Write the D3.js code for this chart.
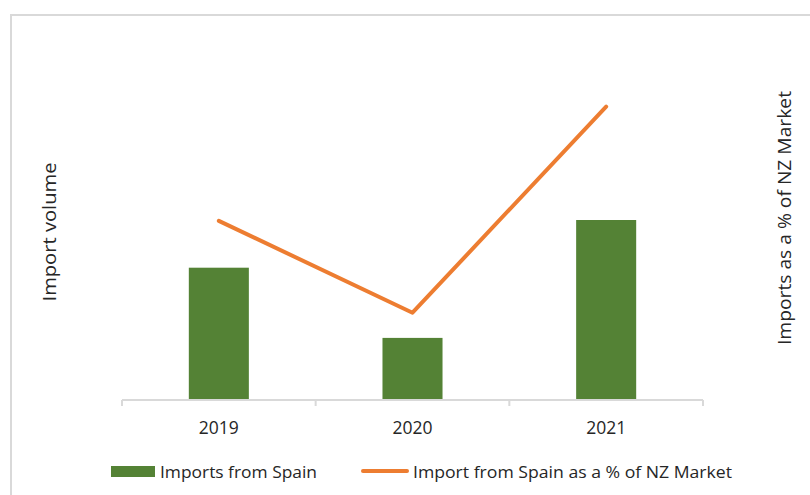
<!DOCTYPE html>
<html>
<head>
<meta charset="utf-8">
<script src="https://cdn.jsdelivr.net/npm/d3@7"></script>
<style>
  body { margin: 0; background: #fff; }
  text { font-family: "Open Sans", "Liberation Sans", sans-serif; fill: #262626; }
</style>
</head>
<body>
<div id="chart"></div>
<script>
var years = ["2019", "2020", "2021"];
var importVolume = [1470, 690, 2000];      // bars, left axis (hidden)
var importShare = [1.99, 0.97, 3.26];      // line, % of NZ market (hidden right axis)

var width = 810, height = 495;
var margin = { left: 122, right: 107, top: 40, bottom: 95 };

var svg = d3.select("#chart").append("svg")
            .attr("width", width)
            .attr("height", height);

// chart frame
svg.append("rect")
   .attr("x", 11).attr("y", 15)
   .attr("width", 820).attr("height", 500)
   .attr("fill", "none")
   .attr("stroke", "#d9d9d9")
   .attr("stroke-width", 2);

var x = d3.scaleBand()
          .domain(years)
          .range([margin.left, width - margin.right])
          .paddingInner(0.69)
          .paddingOuter(0.345);

var yLeft = d3.scaleLinear().domain([0, 4000]).range([height - margin.bottom, margin.top]);
var yRight = d3.scaleLinear().domain([0, 4]).range([height - margin.bottom, margin.top]);

// bars
svg.selectAll("rect.bar")
   .data(importVolume)
   .enter()
   .append("rect")
   .attr("class", "bar")
   .attr("x", function (d, i) { return x(years[i]); })
   .attr("y", function (d) { return yLeft(d); })
   .attr("width", x.bandwidth())
   .attr("height", function (d) { return yLeft(0) - yLeft(d); })
   .style("fill", "#548235");

// x axis
var xAxis = d3.axisBottom(x).tickSize(0);
var gx = svg.append("g")
            .attr("transform", "translate(0," + yLeft(0) + ")")
            .call(xAxis);
gx.select(".domain").attr("stroke", "#d9d9d9").attr("stroke-width", 2)
  .attr("d", "M" + margin.left + ",0H" + (width - margin.right));
gx.selectAll(".tick text")
  .attr("y", 34)
  .attr("dy", null)
  .style("font-size", "17.5px")
  .attr("fill", "#404040");

// tick marks between categories
var step = x.step();
var tickPos = d3.range(years.length + 1).map(function (i) { return margin.left + i * step; });
gx.selectAll("line.sep")
  .data(tickPos)
  .enter()
  .append("line")
  .attr("class", "sep")
  .attr("x1", function (d) { return d; })
  .attr("x2", function (d) { return d; })
  .attr("y1", 0).attr("y2", 6)
  .attr("stroke", "#d9d9d9")
  .attr("stroke-width", 2);

// line
var line = d3.line()
             .x(function (d, i) { return x(years[i]) + x.bandwidth() / 2; })
             .y(function (d) { return yRight(d); });

svg.append("path")
   .datum(importShare)
   .attr("d", line)
   .attr("fill", "none")
   .attr("stroke", "#ED7D31")
   .attr("stroke-width", 4)
   .attr("stroke-linecap", "round")
   .attr("stroke-linejoin", "round");

// axis titles
svg.append("text")
   .attr("transform", "translate(56,232) rotate(-90)")
   .attr("text-anchor", "middle")
   .attr("textLength", 139)
   .attr("lengthAdjust", "spacingAndGlyphs")
   .style("font-size", "18px")
   .attr("fill", "#000")
   .text("Import volume");

svg.append("text")
   .attr("transform", "translate(791,218) rotate(-90)")
   .attr("text-anchor", "middle")
   .attr("textLength", 254)
   .attr("lengthAdjust", "spacingAndGlyphs")
   .style("font-size", "18px")
   .attr("fill", "#000")
   .text("Imports as a % of NZ Market");

// legend
var legend = svg.append("g");
legend.append("rect")
      .attr("x", 111).attr("y", 466)
      .attr("width", 44).attr("height", 11)
      .style("fill", "#548235");
legend.append("text")
      .attr("x", 160).attr("y", 478)
      .attr("textLength", 157)
      .attr("lengthAdjust", "spacingAndGlyphs")
      .style("font-size", "17px")
      .attr("fill", "#404040")
      .text("Imports from Spain");
legend.append("line")
      .attr("x1", 363).attr("x2", 407)
      .attr("y1", 471).attr("y2", 471)
      .attr("stroke", "#ED7D31")
      .attr("stroke-width", 4)
      .attr("stroke-linecap", "round");
legend.append("text")
      .attr("x", 413).attr("y", 478)
      .attr("textLength", 319)
      .attr("lengthAdjust", "spacingAndGlyphs")
      .style("font-size", "17px")
      .attr("fill", "#404040")
      .text("Import from Spain as a % of NZ Market");
</script>
</body>
</html>
